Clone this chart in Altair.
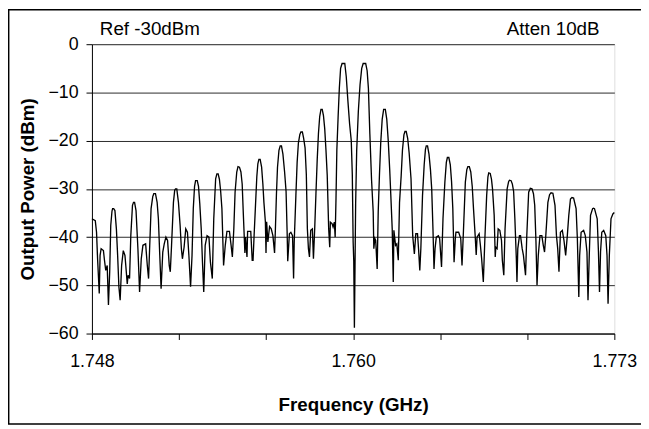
import altair as alt
import pandas as pd

# ---- axis definitions -------------------------------------------------------
x_start_ghz = 1.748
x_end_ghz = 1.773
x_tick_values = [1.748, 1.7521667, 1.7563333, 1.7605, 1.7646667, 1.7688333, 1.773]
x_tick_labels = ["1.748", "", "", "1.760", "", "", "1.773"]
y_tick_values = [0, -10, -20, -30, -40, -50, -60]
annotations_left = ["Ref -30dBm"]
annotations_right = ["Atten 10dB"]

# ---- spectrum trace: (offset from 1.748 GHz in MHz, power in dBm) -------------
trace = [
    (0.00, -36.2), (0.16, -36.6), (0.22, -39.0), (0.27, -44.5), (0.35, -51.7), (0.39, -43.8),
    (0.44, -42.4), (0.55, -42.8), (0.60, -44.8), (0.66, -46.9), (0.73, -45.9), (0.79, -54.1),
    (0.85, -47.2), (0.90, -37.6), (0.96, -34.6), (0.99, -34.1), (1.04, -34.1),
    (1.10, -34.5), (1.17, -38.3), (1.23, -43.8), (1.29, -50.3), (1.35, -53.1), (1.42, -45.9),
    (1.50, -42.8), (1.58, -43.8), (1.62, -45.9), (1.69, -49.7), (1.73, -47.9), (1.80, -48.6),
    (1.86, -39.7), (1.94, -33.4), (1.99, -32.8), (2.04, -32.8),
    (2.11, -34.5), (2.20, -42.4), (2.28, -51.4), (2.36, -44.5), (2.44, -41.7), (2.57, -41.4),
    (2.65, -45.9), (2.71, -48.6), (2.76, -42.4), (2.83, -34.1), (2.91, -31.6), (2.96, -31.0), (3.04, -31.0),
    (3.12, -32.8), (3.18, -36.2), (3.24, -43.1), (3.31, -50.7), (3.39, -43.1), (3.46, -41.4),
    (3.54, -40.0), (3.62, -40.7), (3.70, -45.9), (3.75, -47.2), (3.81, -41.7), (3.90, -32.8),
    (3.96, -30.3), (4.00, -30.0), (4.06, -30.0),
    (4.14, -32.8), (4.22, -37.6), (4.28, -42.4), (4.33, -44.5), (4.41, -42.1), (4.49, -38.3),
    (4.57, -39.0), (4.64, -43.8), (4.72, -50.3), (4.79, -43.8), (4.85, -34.1), (4.91, -29.5),
    (4.96, -28.3), (5.04, -28.3),
    (5.10, -29.5), (5.16, -33.0), (5.23, -38.3), (5.29, -45.2), (5.35, -51.4), (5.42, -41.7),
    (5.51, -39.7), (5.60, -40.0), (5.67, -45.2), (5.76, -48.6), (5.83, -36.2), (5.92, -27.9),
    (5.98, -26.9), (6.04, -26.9),
    (6.10, -28.0), (6.16, -30.5), (6.22, -34.1), (6.30, -45.9), (6.38, -41.7), (6.46, -38.8),
    (6.58, -38.8), (6.66, -41.7), (6.72, -44.1), (6.79, -38.3), (6.85, -30.7), (6.93, -26.5),
    (6.99, -25.4), (7.06, -25.5),
    (7.13, -26.5), (7.19, -29.0), (7.24, -34.7), (7.32, -43.3), (7.35, -40.0), (7.42, -44.1),
    (7.45, -38.8), (7.60, -38.8), (7.67, -44.8), (7.71, -44.8), (7.76, -39.7), (7.82, -34.1),
    (7.89, -27.5), (7.94, -24.8), (7.99, -23.9), (8.05, -23.9),
    (8.12, -25.5), (8.18, -29.0), (8.23, -32.8), (8.30, -36.8), (8.33, -43.3), (8.36, -36.8),
    (8.42, -41.0), (8.50, -37.8), (8.58, -38.3), (8.66, -39.7), (8.74, -43.3), (8.78, -38.3),
    (8.83, -31.0), (8.88, -25.5), (8.95, -22.0), (9.01, -21.1), (9.07, -21.1),
    (9.14, -22.8), (9.22, -26.5), (9.29, -30.5), (9.34, -38.8), (9.37, -45.0), (9.45, -39.3),
    (9.52, -39.0), (9.60, -39.7), (9.65, -48.6), (9.68, -41.0), (9.76, -31.4), (9.82, -24.5),
    (9.88, -20.5), (9.95, -18.7), (10.00, -18.2), (10.07, -18.2),
    (10.13, -19.5), (10.20, -21.5), (10.26, -27.0), (10.31, -38.3), (10.36, -42.4), (10.41, -44.1),
    (10.47, -38.6), (10.55, -38.3), (10.60, -44.5), (10.66, -38.3), (10.72, -31.0), (10.78, -24.0),
    (10.84, -18.5), (10.90, -15.0), (10.96, -13.5), (11.02, -13.5),
    (11.08, -14.8), (11.14, -17.5), (11.20, -22.0), (11.26, -27.2), (11.33, -38.3), (11.38, -42.1),
    (11.41, -36.9), (11.49, -37.2), (11.54, -37.9), (11.60, -36.9), (11.64, -40.0), (11.68, -32.0),
    (11.72, -22.0), (11.78, -15.2), (11.84, -9.1), (11.90, -5.0), (11.97, -4.0), (12.10, -4.0),
    (12.17, -6.7), (12.25, -11.8), (12.33, -16.5), (12.41, -20.0), (12.46, -27.0), (12.50, -41.0),
    (12.53, -45.0), (12.56, -58.8), (12.59, -46.0), (12.62, -33.0), (12.67, -22.0), (12.75, -13.8),
    (12.83, -8.4), (12.91, -5.0), (12.98, -4.0), (13.10, -4.0),
    (13.17, -5.5), (13.23, -9.1), (13.30, -18.6), (13.38, -28.0), (13.46, -34.8), (13.49, -42.4),
    (13.54, -40.3), (13.58, -40.7), (13.65, -46.6), (13.70, -34.8), (13.76, -27.0), (13.82, -20.5),
    (13.89, -15.6), (13.96, -13.5), (14.04, -13.5),
    (14.11, -15.6), (14.18, -20.0), (14.25, -26.0), (14.30, -31.0), (14.37, -38.3), (14.42, -49.3),
    (14.45, -38.6), (14.53, -41.7), (14.59, -41.4), (14.66, -44.8), (14.72, -32.8), (14.80, -27.2),
    (14.86, -22.0), (14.93, -18.8), (14.98, -18.1), (15.04, -18.1),
    (15.11, -19.5), (15.18, -22.5), (15.27, -27.9), (15.35, -39.7), (15.43, -43.5), (15.50, -39.3),
    (15.58, -39.3), (15.63, -42.4), (15.69, -46.9), (15.74, -42.4), (15.82, -31.4), (15.90, -25.0),
    (15.96, -21.8), (16.00, -21.1), (16.06, -21.1),
    (16.13, -22.8), (16.20, -26.0), (16.26, -30.0), (16.32, -38.3), (16.37, -46.6), (16.42, -42.4),
    (16.48, -40.0), (16.58, -39.7), (16.64, -40.3), (16.73, -46.2), (16.80, -36.2), (16.89, -28.6),
    (16.96, -24.5), (17.01, -23.5), (17.08, -23.5),
    (17.15, -25.0), (17.21, -28.5), (17.27, -34.1), (17.33, -45.2), (17.39, -40.3), (17.42, -39.0),
    (17.55, -39.0), (17.65, -40.3), (17.71, -45.9), (17.77, -39.7), (17.87, -28.6), (17.94, -26.0),
    (17.99, -25.4), (18.06, -25.4),
    (18.13, -26.5), (18.20, -29.5), (18.26, -34.1), (18.34, -39.7), (18.39, -43.7), (18.43, -40.0),
    (18.53, -39.3), (18.59, -41.7), (18.65, -44.5), (18.73, -49.3), (18.81, -39.7), (18.89, -31.4),
    (18.95, -27.5), (18.99, -26.7), (19.06, -26.8),
    (19.12, -28.0), (19.17, -30.0), (19.25, -35.5), (19.30, -44.1), (19.33, -42.1), (19.39, -42.4),
    (19.44, -38.3), (19.52, -38.6), (19.60, -40.7), (19.64, -44.8), (19.71, -47.9), (19.77, -38.3),
    (19.87, -30.0), (19.94, -28.5), (19.98, -28.2), (20.06, -28.3),
    (20.12, -29.0), (20.18, -30.5), (20.24, -36.2), (20.31, -44.5), (20.34, -49.3), (20.38, -42.4),
    (20.46, -39.7), (20.51, -39.7), (20.59, -42.4), (20.65, -43.8), (20.75, -47.9), (20.81, -39.7),
    (20.90, -30.7), (20.98, -29.9), (21.06, -30.0),
    (21.13, -31.0), (21.19, -33.4), (21.25, -41.0), (21.30, -50.0), (21.36, -43.8), (21.44, -39.7),
    (21.53, -39.7), (21.60, -41.7), (21.66, -43.1), (21.72, -39.7), (21.82, -32.8), (21.90, -31.2),
    (21.97, -30.8), (22.06, -30.9),
    (22.16, -33.4), (22.23, -39.7), (22.29, -42.4), (22.35, -47.2), (22.42, -39.0), (22.51, -38.6),
    (22.59, -40.7), (22.67, -43.8), (22.75, -39.7), (22.82, -35.5), (22.90, -32.1), (22.97, -31.8),
    (23.05, -31.9),
    (23.17, -34.1), (23.23, -40.3), (23.30, -52.4), (23.34, -43.8), (23.41, -39.0), (23.53, -38.6),
    (23.61, -39.7), (23.69, -43.1), (23.74, -53.1), (23.80, -43.8), (23.86, -35.5), (23.96, -34.1),
    (24.00, -34.0), (24.05, -34.1),
    (24.18, -36.2), (24.24, -43.1), (24.29, -51.4), (24.34, -43.1), (24.40, -39.0), (24.49, -38.6),
    (24.59, -39.7), (24.65, -43.8), (24.70, -53.8), (24.76, -43.8), (24.84, -36.2), (24.93, -35.2),
    (25.00, -34.9),
]

offset_mhz = [p[0] for p in trace]
power_dbm = [p[1] for p in trace]
df = pd.DataFrame({
    "freq": [x_start_ghz + m / 1000.0 for m in offset_mhz],
    "power": power_dbm,
})

# label expression built from the tick arrays
label_expr = "''"
for v, lab in zip(reversed(x_tick_values), reversed(x_tick_labels)):
    if lab:
        label_expr = f"abs(datum.value - {v}) < 0.0005 ? '{lab}' : ({label_expr})"

FONT = "Liberation Sans"

x_enc = alt.X(
    "freq:Q",
    scale=alt.Scale(domain=[x_start_ghz, x_end_ghz], nice=False, zero=False),
    axis=alt.Axis(
        values=x_tick_values, labelExpr=label_expr, grid=False,
        tickSize=6, tickColor="black", domainColor="black", tickWidth=1, domainWidth=1,
        labelFontSize=18, labelColor="black", labelPadding=13, labelFlush=False,
        title="Frequency (GHz)", titleFontSize=19, titleFontWeight="bold",
        titleColor="black", titlePadding=26,
    ),
)
y_enc = alt.Y(
    "power:Q",
    scale=alt.Scale(domain=[-60, 0], nice=False, zero=False),
    axis=alt.Axis(
        values=y_tick_values, grid=True, gridColor="#2a2a2a", gridWidth=1,
        tickSize=6, tickColor="black", domainColor="black", tickWidth=1, domainWidth=1,
        labelFontSize=18, labelColor="black", labelPadding=8,
        title="Output Power (dBm)", titleFontSize=19, titleFontWeight="bold",
        titleColor="black", titlePadding=11,
    ),
)

line = alt.Chart(df).mark_line(color="black", strokeWidth=1.35, interpolate="linear").encode(
    x=x_enc, y=y_enc
)

ann_left = alt.Chart(pd.DataFrame({"freq": [x_start_ghz], "t": annotations_left})).mark_text(
    align="left", baseline="middle", fontSize=19, font=FONT, color="black", dx=8
).encode(x=alt.X("freq:Q"), y=alt.value(-15), text="t:N")

ann_right = alt.Chart(pd.DataFrame({"freq": [x_end_ghz], "t": annotations_right})).mark_text(
    align="right", baseline="middle", fontSize=19, font=FONT, color="black", dx=-15
).encode(x=alt.X("freq:Q"), y=alt.value(-15), text="t:N")

frame = alt.Chart(pd.DataFrame({"a": [0]})).mark_rect(
    fill=None, stroke="black", strokeWidth=1.5, clip=False
).encode(x=alt.value(-84.3), x2=alt.value(620), y=alt.value(-35), y2=alt.value(384.5))

chart = alt.layer(frame, line, ann_left, ann_right).properties(
    width=529, height=293,
    padding={"left": 85, "top": 34, "right": 27, "bottom": 94},
    autosize=alt.AutoSizeParams(type="none"),
).configure_view(stroke=None).configure(
    font=FONT, background="white"
)

chart.save("out.html", embed_options={"renderer": "svg", "actions": False})
